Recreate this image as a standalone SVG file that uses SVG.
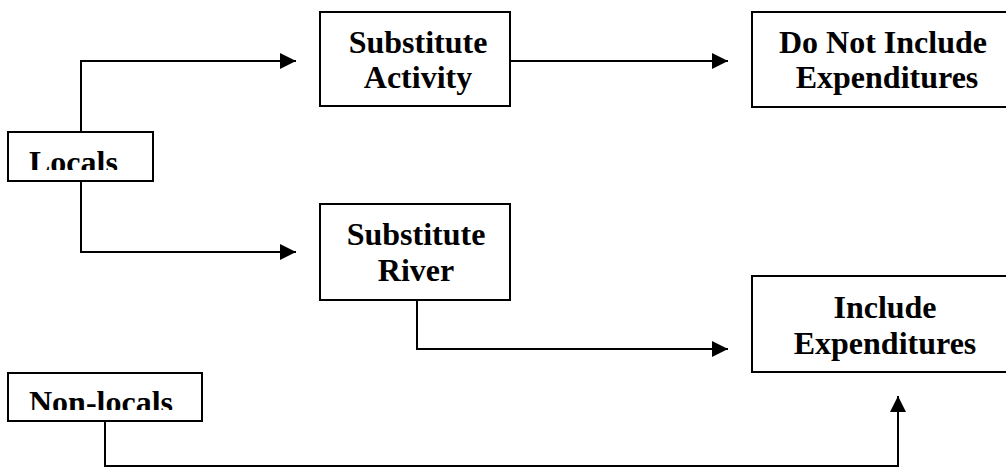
<svg xmlns="http://www.w3.org/2000/svg" width="1006" height="468" viewBox="0 0 1006 468">
<style>
.box{fill:#fff;stroke:#000;stroke-width:2}
.t{font-family:"Liberation Serif","Times New Roman",serif;font-weight:bold;font-size:32px;fill:#000}
.c{text-anchor:middle}
.ln{fill:none;stroke:#000;stroke-width:2}
</style>
<defs>
<marker id="ah" markerUnits="userSpaceOnUse" markerWidth="17" markerHeight="17" refX="16" refY="8" orient="auto">
<path d="M0,0 L16,8 L0,16 Z" fill="#000"/>
</marker>
<clipPath id="clipL"><rect x="8" y="132" width="145" height="38"/></clipPath>
<clipPath id="clipN"><rect x="8" y="373" width="194" height="37"/></clipPath>
</defs>
<g id="connectors">
<path class="ln" d="M81,132 V61 H296" marker-end="url(#ah)"/>
<path class="ln" d="M81,181 V252 H296" marker-end="url(#ah)"/>
<path class="ln" d="M510,61 H728" marker-end="url(#ah)"/>
<path class="ln" d="M417,300 V349 H728" marker-end="url(#ah)"/>
<path class="ln" d="M105,421 V466 H898 V396" marker-end="url(#ah)"/>
</g>
<g id="locals">
<rect class="box" x="8" y="132" width="145" height="49"/>
<text class="t" x="29" y="173" clip-path="url(#clipL)">Locals</text>
</g>
<g id="nonlocals">
<rect class="box" x="8" y="373" width="194" height="48"/>
<text class="t" x="29" y="413" clip-path="url(#clipN)">Non-locals</text>
</g>
<g id="subactivity">
<rect class="box" x="320" y="12" width="190" height="94"/>
<text class="t c" x="418" y="53">Substitute</text>
<text class="t c" x="418" y="88">Activity</text>
</g>
<g id="subriver">
<rect class="box" x="320" y="204" width="190" height="96"/>
<text class="t c" x="416" y="245">Substitute</text>
<text class="t c" x="416" y="281">River</text>
</g>
<g id="donotinclude">
<rect class="box" x="752" y="12" width="262" height="95"/>
<text class="t c" x="883" y="53">Do Not Include</text>
<text class="t c" x="887" y="88">Expenditures</text>
</g>
<g id="include">
<rect class="box" x="752" y="276" width="262" height="96"/>
<text class="t c" x="885" y="318">Include</text>
<text class="t c" x="885" y="354">Expenditures</text>
</g>
</svg>
